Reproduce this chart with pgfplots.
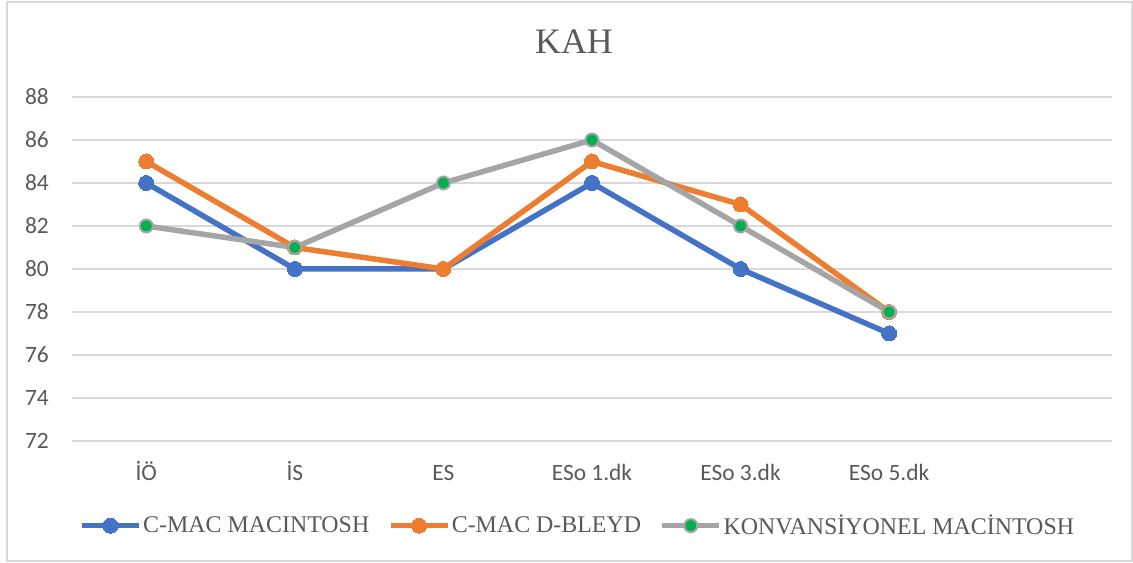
\documentclass[border=0pt]{standalone}
\usepackage{fontspec}
\setmainfont{Liberation Serif}
\newfontfamily\calibri{Carlito}
\usepackage{pgfplots}
\pgfplotsset{compat=1.18}
\definecolor{cblue}{HTML}{4472C4}
\definecolor{corange}{HTML}{ED7D31}
\definecolor{cgray}{HTML}{A5A5A5}
\definecolor{cgreen}{HTML}{00B050}
\definecolor{ctext}{HTML}{595959}
\definecolor{cgrid}{HTML}{D9D9D9}
\begin{document}
\begin{tikzpicture}[x=1bp,y=1bp]
% pixel (px,py) -> (px-72, 441-py)
\useasboundingbox (-72,-122) rectangle (1061,441);
\draw[cgrid, line width=1.5bp] (-65,-120) rectangle (1060,439);
\node[anchor=base, text=ctext, font=\fontsize{36}{40}\selectfont, inner sep=0] at (502,387) {KAH};
\begin{axis}[
  at={(0,0)}, anchor=south west,
  scale only axis, width=1040bp, height=344bp,
  xmin=-0.5, xmax=6.5, ymin=72, ymax=88,
  xtick={0,1,2,3,4,5},
  xticklabels={İÖ,İS,ES,ESo 1.dk,ESo 3.dk,ESo 5.dk},
  ytick={72,74,...,88},
  major tick length=0,
  axis line style={draw=none},
  ymajorgrids, grid style={cgrid, line width=1.5bp},
  /pgf/number format/assume math mode=true,
  tick label style={font=\calibri\fontsize{23.5}{26}\selectfont, text=ctext, inner sep=0},
  yticklabel style={anchor=east, xshift=-23bp},
  xticklabel style={anchor=base, yshift=-40bp},
  legend columns=3,
  legend style={at={(rel axis cs:0.486,-0.246)}, anchor=center, draw=none, fill=none,
    font=\fontsize{24}{26}\selectfont, text=ctext,
    nodes={inner sep=1.5bp},
    /tikz/every even column/.append style={column sep=17bp}},
  legend cell align=left,
  legend image code/.code={\draw[mark repeat=2,mark phase=2,#1] plot coordinates {(0bp,0bp) (28.5bp,0bp) (57bp,0bp)};},
  clip=false,
]
\addplot[cblue, line width=5.5bp, mark=*, mark size=7.5bp, mark options={fill=cblue, draw=cblue, line width=0pt}]
  coordinates {(0,84) (1,80) (2,80) (3,84) (4,80) (5,77)};
\addlegendentry{C-MAC MACINTOSH}
\addplot[corange, line width=5.5bp, mark=*, mark size=7.5bp, mark options={fill=corange, draw=corange, line width=0pt}]
  coordinates {(0,85) (1,81) (2,80) (3,85) (4,83) (5,78)};
\addlegendentry{C-MAC D-BLEYD}
\addplot[cgray, line width=5.5bp, mark=*, mark size=6.5bp, mark options={fill=cgreen, draw=cgray, line width=2bp}]
  coordinates {(0,82) (1,81) (2,84) (3,86) (4,82) (5,78)};
\addlegendentry{KONVANSİYONEL MACİNTOSH}
\end{axis}
\end{tikzpicture}
\end{document}
